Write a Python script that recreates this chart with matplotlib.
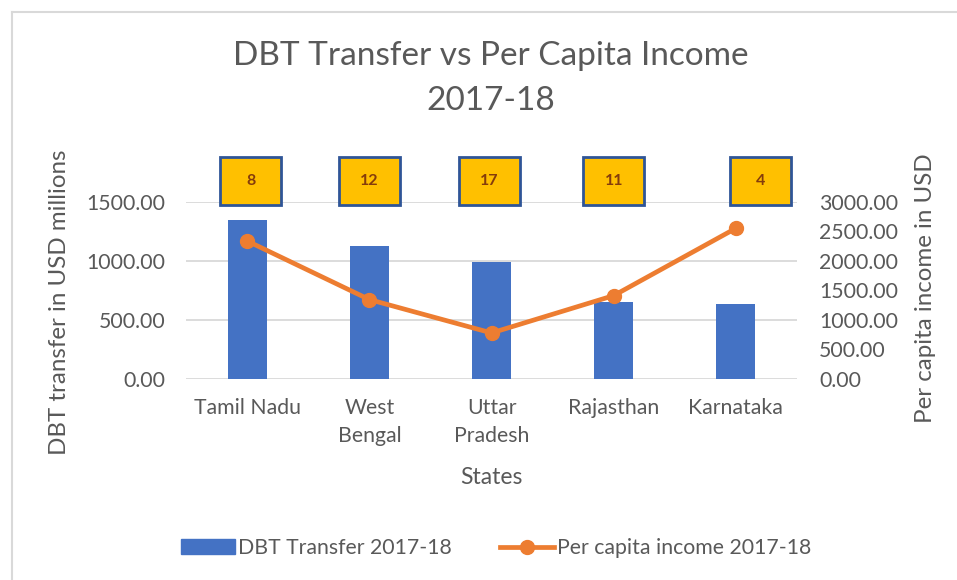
import matplotlib.pyplot as plt
from matplotlib.patches import Rectangle
from matplotlib.lines import Line2D
import numpy as np

plt.rcParams['font.family'] = ['Lato', 'DejaVu Sans']

states = ['Tamil Nadu', 'West\nBengal', 'Uttar\nPradesh', 'Rajasthan', 'Karnataka']
dbt_transfer = [1351, 1130, 992, 653, 633]
per_capita = [2339, 1346, 780, 1413, 2554]
box_labels = ['8', '12', '17', '11', '4']

grey = '#595959'
blue = '#4472C4'
orange = '#ED7D31'

fig = plt.figure(figsize=(9.57, 5.8), dpi=100)
ax = fig.add_axes([0.1944, 0.3466, 0.6384, 0.3052])
ax2 = ax.twinx()

x = np.arange(len(states))
ax.bar(x, dbt_transfer, width=0.32, color=blue, zorder=2)
ax2.plot(x, per_capita, color=orange, lw=3.4, marker='o', ms=10, zorder=3)

ax.set_xlim(-0.5, len(states) - 0.5)
ax.set_ylim(0, 1500)
ax2.set_ylim(0, 3000)
ax.set_yticks(np.arange(0, 1501, 500))
ax2.set_yticks(np.arange(0, 3001, 500))
ax.yaxis.set_major_formatter(lambda v, p: f'{v:.2f}')
ax2.yaxis.set_major_formatter(lambda v, p: f'{v:.2f}')
ax.set_xticks(x)
ax.set_xticklabels(states, linespacing=1.45)

ax.grid(axis='y', color='#D9D9D9', lw=1.3, zorder=0)
ax.set_axisbelow(True)
for a in (ax, ax2):
    for s in a.spines.values():
        s.set_visible(False)
ax.tick_params(axis='both', length=0, labelsize=15.3, labelcolor=grey)
ax.tick_params(axis='y', pad=15)
ax.tick_params(axis='x', pad=14)
ax2.tick_params(axis='y', length=0, labelsize=15.3, labelcolor=grey, pad=16)
ax.set_zorder(ax2.get_zorder() - 1)
ax2.patch.set_visible(False)
ax.patch.set_visible(False)

# yellow label boxes above each bar
box_shift = [0.03, 0.0, -0.02, 0.0, 0.2]
for i, lab in enumerate(box_labels):
    cx = x[i] + box_shift[i]
    ax.add_patch(Rectangle((cx - 0.25, 1475), 0.5, 405, facecolor='#FFC000',
                           edgecolor='#2F5597', lw=2, clip_on=False, zorder=5))
    ax.text(cx, 1678, lab, ha='center', va='center', fontsize=11.5,
            fontweight='bold', color='#843C0C', zorder=6, clip_on=False)

fig.text(491 / 957, 1 - 56 / 580, 'DBT Transfer vs Per Capita Income',
         ha='center', va='center', fontsize=24, color=grey)
fig.text(491 / 957, 1 - 101 / 580, '2017-18',
         ha='center', va='center', fontsize=24, color=grey)
fig.text(60 / 957, 1 - 302 / 580, 'DBT transfer in USD millions', rotation=90,
         ha='center', va='center', fontsize=17.4, color=grey)
fig.text(925 / 957, 1 - 288 / 580, 'Per capita income in USD', rotation=90,
         ha='center', va='center', fontsize=17.4, color=grey)
fig.text(491 / 957, 1 - 478 / 580, 'States', ha='center', va='center',
         fontsize=16.5, color=grey)

handles = [Rectangle((0, 0), 1, 1, color=blue),
           Line2D([], [], color=orange, lw=3.4, marker='o', ms=10)]
fig.legend(handles, ['DBT Transfer 2017-18', 'Per capita income 2017-18'],
           loc='center', bbox_to_anchor=(496 / 957, 1 - 548 / 580), ncol=2,
           frameon=False, fontsize=15.3, labelcolor=grey, handlelength=2.55,
           handletextpad=0.15, columnspacing=2.25)

# chart border (cut at right/bottom in the screenshot)
fig.add_artist(Line2D([12 / 957, 12 / 957], [0, 1 - 12 / 580], color='#D9D9D9', lw=1.5))
fig.add_artist(Line2D([12 / 957, 1], [1 - 12 / 580, 1 - 12 / 580], color='#D9D9D9', lw=1.5))

fig.savefig('out.png', dpi=100)
